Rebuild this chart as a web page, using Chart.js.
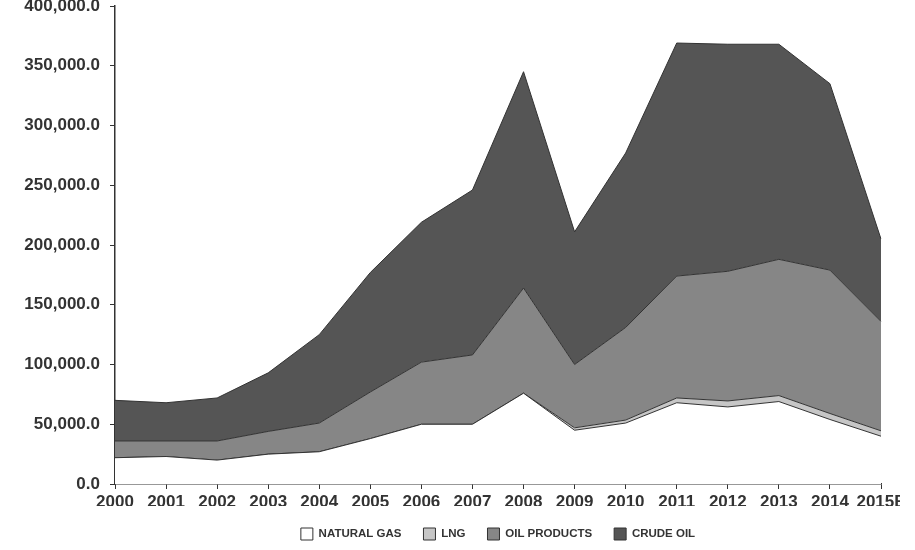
<!DOCTYPE html>
<html>
<head>
<meta charset="utf-8">
<script src="https://cdn.jsdelivr.net/npm/chart.js@4.4.1/dist/chart.umd.min.js"></script>
<style>
  html, body { margin: 0; padding: 0; background: #fff; }
  #wrap { width: 900px; height: 550px; position: relative; }
</style>
</head>
<body>
<div id="wrap"><canvas id="chart"></canvas></div>
<script>
// stacked area: natural gas at the bottom, crude oil on top
const years = ['2000', '2001', '2002', '2003', '2004', '2005', '2006', '2007',
  '2008', '2009', '2010', '2011', '2012', '2013', '2014', '2015E'];

const naturalGas = [22000, 23000, 20000, 25000, 27000, 38000, 50000, 50000,
  76000, 45000, 51000, 68000, 64500, 69000, 54000, 40000];
const lng = [0, 0, 0, 0, 0, 0, 0, 0,
  0, 2000, 2500, 4000, 5000, 5000, 5000, 4500];
const oilProducts = [14000, 13000, 16000, 19000, 24000, 39000, 52000, 58000,
  88000, 53000, 77500, 102000, 108500, 114000, 120000, 91500];
const crudeOil = [34000, 32000, 36000, 49000, 74000, 100000, 117000, 138000,
  181000, 111000, 146000, 195000, 190000, 180000, 156000, 69000];

const yTicks = [0, 50000, 100000, 150000, 200000, 250000, 300000, 350000, 400000];

const INK = '#333333';
const FONT = '"Liberation Sans", Arial, sans-serif';

function area(label, data, color, fill) {
  return {
    label: label,
    data: data,
    backgroundColor: color,
    borderColor: INK,
    borderWidth: 1,
    pointRadius: 0,
    tension: 0,
    fill: fill
  };
}

new Chart(document.getElementById('chart'), {
  type: 'line',
  data: {
    labels: years,
    datasets: [
      area('NATURAL GAS', naturalGas, '#ffffff', 'origin'),
      area('LNG', lng, '#c6c6c6', '-1'),
      area('OIL PRODUCTS', oilProducts, '#868686', '-1'),
      area('CRUDE OIL', crudeOil, '#555555', '-1')
    ]
  },
  options: {
    responsive: true,
    maintainAspectRatio: false,
    animation: false,
    layout: { padding: { top: 6, right: 19, bottom: 0, left: 0 } },
    plugins: {
      tooltip: { enabled: false },
      legend: {
        position: 'bottom',
        fullSize: false,
        labels: {
          color: INK,
          font: { family: FONT, size: 11.5, weight: 'bold' },
          boxWidth: 12,
          boxHeight: 12,
          padding: 22
        }
      }
    },
    scales: {
      x: {
        offset: false,
        grid: { display: true, drawOnChartArea: false, drawTicks: true, tickLength: 5, color: INK },
        border: { display: true, color: INK, width: 1.5 },
        ticks: {
          color: INK,
          font: { family: FONT, size: 17, weight: 'bold' },
          padding: 3,
          maxRotation: 0,
          autoSkip: false
        },
        afterFit(scale) {
          scale.height = 22;
          scale.paddingRight = 0;
        }
      },
      y: {
        stacked: true,
        min: 0,
        max: 400000,
        afterBuildTicks(scale) {
          scale.ticks = yTicks.map(v => ({ value: v }));
        },
        grid: { display: true, drawOnChartArea: false, drawTicks: true, tickLength: 5, color: INK },
        border: { display: true, color: INK, width: 1.5 },
        ticks: {
          color: INK,
          font: { family: FONT, size: 17, weight: 'bold' },
          padding: 10,
          callback: v => v.toLocaleString('en-US', { minimumFractionDigits: 1, maximumFractionDigits: 1 })
        },
        afterFit(scale) {
          scale.width = 115;
          scale.paddingTop = 0;
          scale.paddingBottom = 0;
        }
      }
    }
  }
});
</script>
</body>
</html>
